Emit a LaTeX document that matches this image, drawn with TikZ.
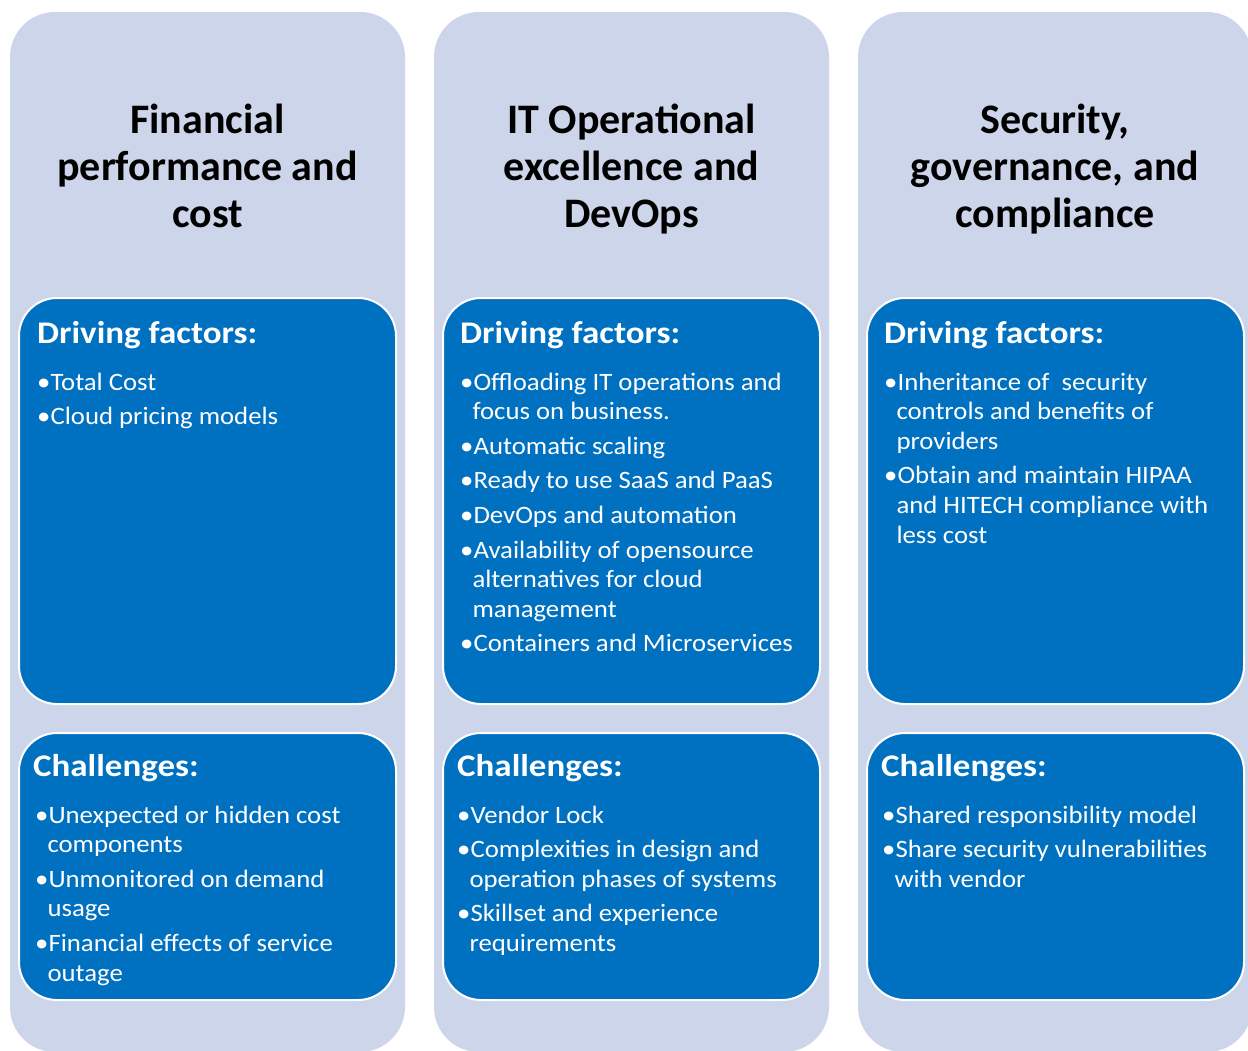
\documentclass[tikz,border=0pt]{standalone}
\usepackage{fontspec}
\setmainfont{Carlito}
\newfontfamily\listfont{Carlito}[FakeStretch=1.07]
\newfontfamily\headfont{Carlito}[FakeStretch=1.11]
\definecolor{colbg}{HTML}{CDD5EA}
\definecolor{boxbg}{HTML}{0070C0}
\newlength{\bw}
\newcommand{\bitem}[1]{\par\hangindent=\bw\hangafter=1\noindent\textbullet#1}
\newcommand{\blist}[1]{\vtop{\hsize=375pt\parindent=0pt\raggedright\def\\{\hfil\break}\listfont\fontsize{25}{29.6}\selectfont\settowidth{\bw}{\textbullet}\addtolength{\bw}{-1pt}\parskip=5pt #1\par}}
\newcommand{\ttl}[1]{\vtop{\hsize=390pt\centering\fontsize{42}{47}\selectfont\bfseries #1\par}}
\tikzset{
  colbox/.style={rectangle, rounded corners=45pt, fill=colbg, draw=none, inner sep=0pt, minimum width=395pt, minimum height=1040pt},
  darkbox/.style={rectangle, rounded corners=38pt, fill=boxbg, draw=white, line width=2pt, inner sep=0pt, minimum width=377pt},
  drvbox/.style={darkbox, minimum height=406pt},
  chlbox/.style={darkbox, minimum height=267pt},
  head/.style={anchor=base west, inner sep=0pt, text=white, font=\headfont\fontsize{31.5}{37}\selectfont\bfseries},
  lst/.style={anchor=base west, inner sep=0pt, text=white},
  titlenode/.style={anchor=base, inner sep=0pt, text=black}
}
\begin{document}
\begin{tikzpicture}[x=1pt,y=-1pt]
\useasboundingbox (0,0) rectangle (1248,1050);
\fill[white] (0,0) rectangle (1248,1050);
\clip (0,0) rectangle (1248,1050);
% columns
\node[colbox] (c1) at (207.5,532) {};
\node[colbox] (c2) at (631.5,532) {};
\node[colbox, minimum width=394pt] (c3) at (1055,532) {};
% dark boxes
\node[drvbox] (d1) at (207.5,501) {};
\node[chlbox] (h1) at (207.5,866.5) {};
\node[drvbox] (d2) at (631.5,501) {};
\node[chlbox] (h2) at (631.5,866.5) {};
\node[drvbox] (d3) at (1055.5,501) {};
\node[chlbox] (h3) at (1055.5,866.5) {};
% titles
\node[titlenode] (t1) at (207.5,133) {\ttl{Financial\\performance and\\cost}};
\node[titlenode] (t2) at (631.5,133) {\ttl{IT Operational\\excellence and\\DevOps}};
\node[titlenode] (t3) at (1055,133) {\ttl{Security,\\governance, and\\compliance}};
% headings
\node[head] (dh1) at (37,343) {Driving factors:};
\node[head] (dh2) at (460,343) {Driving factors:};
\node[head] (dh3) at (884,343) {Driving factors:};
\node[head] (ch1) at (33,776) {Challenges:};
\node[head] (ch2) at (457,776) {Challenges:};
\node[head] (ch3) at (881,776) {Challenges:};
% lists
\node[lst] (dl1) at (37,390) {\blist{\bitem{Total Cost}\bitem{Cloud pricing models}}};
\node[lst] (dl2) at (460,390) {\blist{\bitem{Offloading IT operations and\\focus on business.}\bitem{Automatic scaling}\bitem{Ready to use SaaS and PaaS}\bitem{DevOps and automation}\bitem{Availability of opensource\\alternatives for cloud\\management}\bitem{Containers and Microservices}}};
\node[lst] (dl3) at (884,390) {\blist{\bitem{Inheritance of\ \ security\\controls and benefits of\\providers}\bitem{Obtain and maintain HIPAA\\and HITECH compliance with\\less cost}}};
\node[lst] (cl1) at (35,823) {\blist{\bitem{Unexpected or hidden cost\\components}\bitem{Unmonitored on demand\\usage}\bitem{Financial effects of service\\outage}}};
\node[lst] (cl2) at (457,823) {\blist{\bitem{Vendor Lock}\bitem{Complexities in design and\\operation phases of systems}\bitem{Skillset and experience\\requirements}}};
\node[lst] (cl3) at (882,823) {\blist{\bitem{Shared responsibility model}\bitem{Share security vulnerabilities\\with vendor}}};
\end{tikzpicture}
\end{document}
